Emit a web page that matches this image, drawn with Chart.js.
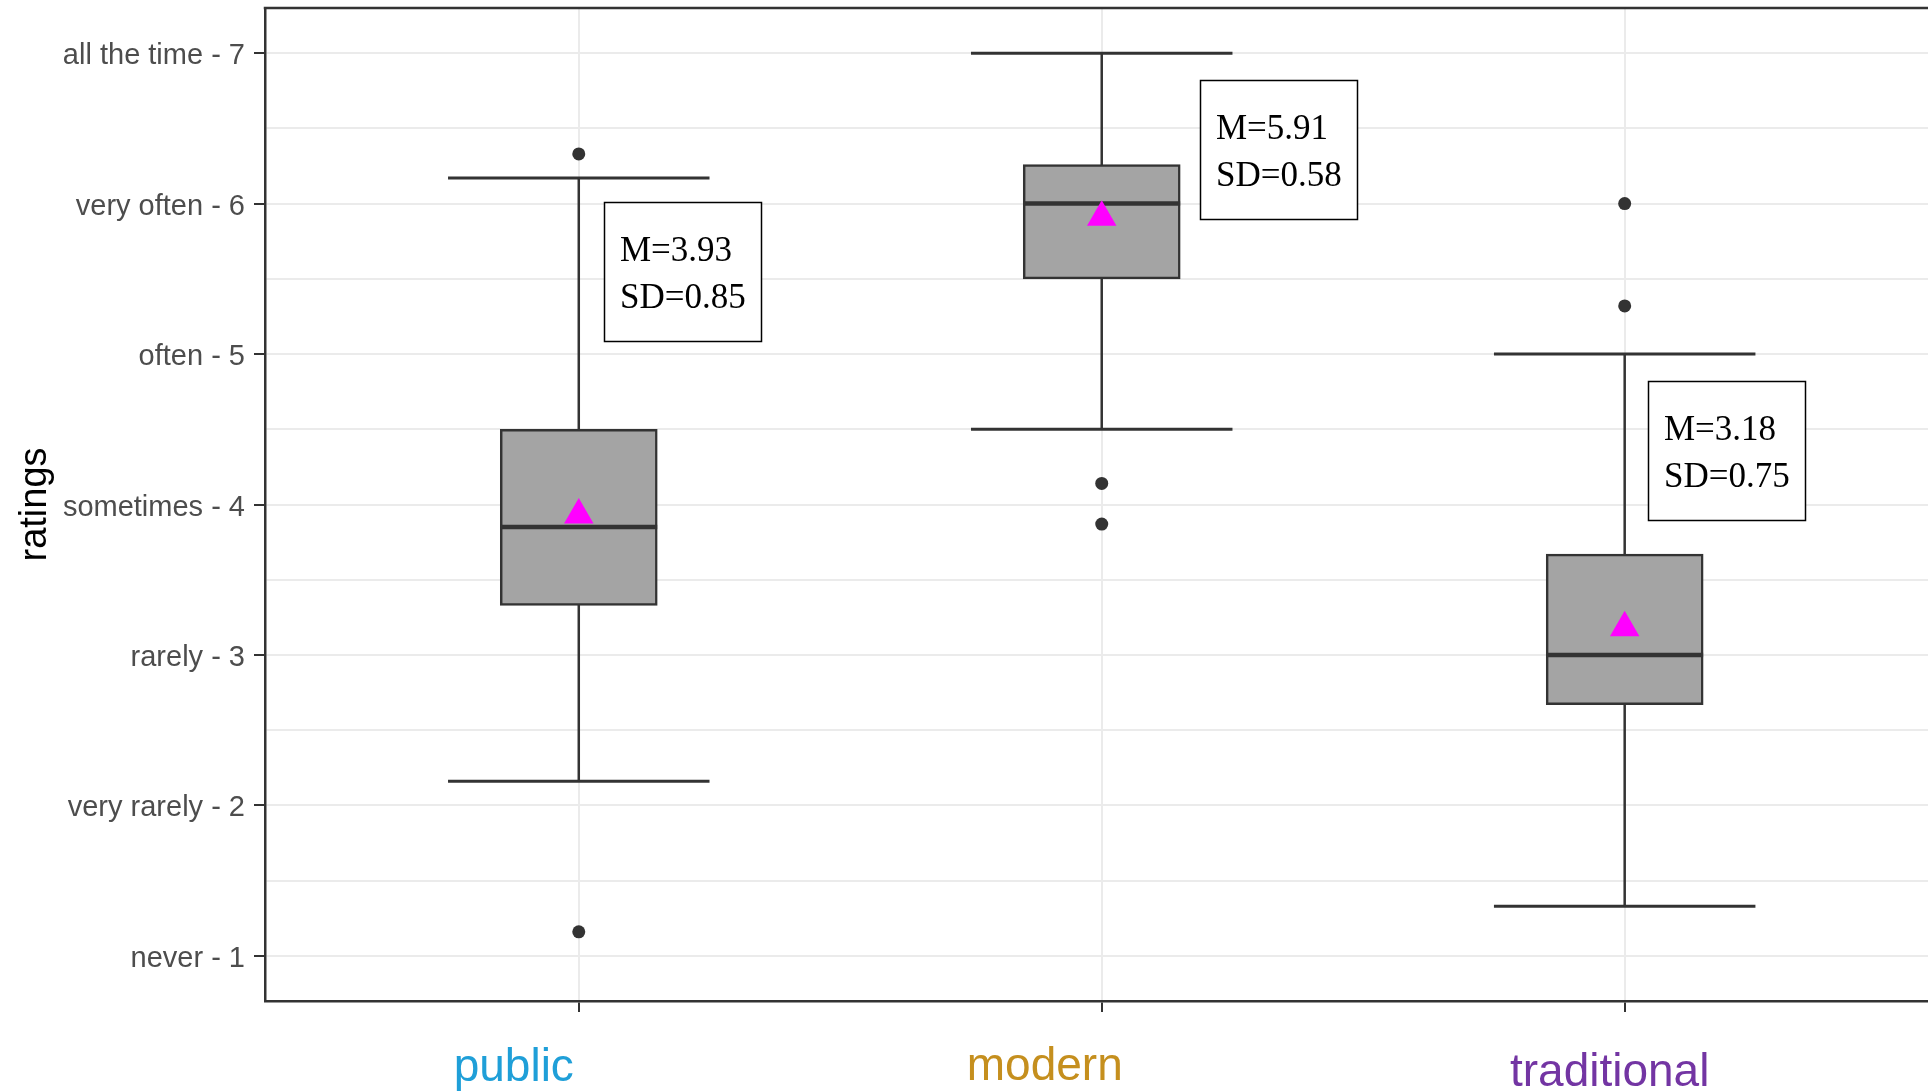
<!DOCTYPE html>
<html><head><meta charset="utf-8">
<script src="https://cdn.jsdelivr.net/npm/chart.js@4.4.1/dist/chart.umd.min.js"></script>
<style>html,body{margin:0;padding:0;background:#fff;overflow:hidden}canvas{display:block}</style>
</head><body>
<canvas id="c" width="1928" height="1092" style="width:1928px;height:1092px"></canvas>
<script>
// ---- data ----
const categories = ['public', 'modern', 'traditional'];
const lowerWhisker = [2.16, 4.5, 1.33];
const q1 = [3.33, 5.5, 2.67];
const medians = [3.85, 6.0, 3.0];
const q3 = [4.5, 6.26, 3.67];
const upperWhisker = [6.17, 7.0, 5.0];
const outliers = [[6.33, 1.16], [4.14, 3.87], [6.0, 5.32]];
const means = [3.93, 5.91, 3.18];
const sds = [0.85, 0.58, 0.75];
const yTickValues = [1, 2, 3, 4, 5, 6, 7];
const yTickLabels = ['never - 1', 'very rarely - 2', 'rarely - 3', 'sometimes - 4', 'often - 5', 'very often - 6', 'all the time - 7'];
const yMinorTicks = [1.5, 2.5, 3.5, 4.5, 5.5, 6.5];

// ---- layout / style ----
const xLabelColors = ['#1F9FD8', '#C58F1E', '#7335A3'];
const xLabelShift = [-65, -57, -15];
const xLabelBaseline = [1081, 1080, 1086];
const annoX = [1.048, 2.188, 3.044];
const annoTop = [6.01, 6.82, 4.82];
const boxHalf = 0.15, capHalf = 0.25;
const dark = '#333333';

const datasets = [];
datasets.push({
  type: 'scatter', order: 1,
  data: means.map((m, i) => ({x: i + 1, y: m})),
  pointStyle: 'triangle', pointRadius: 17, backgroundColor: '#FF00FF', borderWidth: 0
});
datasets.push({
  type: 'scatter', order: 2,
  data: outliers.flatMap((arr, i) => arr.map(v => ({x: i + 1, y: v}))),
  pointRadius: 6.5, backgroundColor: dark, borderWidth: 0
});
categories.forEach((c, i) => {
  datasets.push({
    type: 'line', order: 3,
    data: [{x: i + 1 - boxHalf, y: medians[i]}, {x: i + 1 + boxHalf, y: medians[i]}],
    borderColor: dark, borderWidth: 4.5, pointRadius: 0, borderCapStyle: 'butt'
  });
});
datasets.push({
  type: 'bar', order: 4,
  data: categories.map((c, i) => ({x: i + 1, y: [q1[i], q3[i]]})),
  backgroundColor: '#A4A4A4', borderColor: dark, borderWidth: 2.5, borderSkipped: false, barThickness: 157
});
categories.forEach((c, i) => {
  datasets.push({
    type: 'line', order: 5,
    data: [{x: i + 1, y: lowerWhisker[i]}, {x: i + 1, y: upperWhisker[i]}],
    borderColor: dark, borderWidth: 2.5, pointRadius: 0
  });
  [lowerWhisker[i], upperWhisker[i]].forEach(v => {
    datasets.push({
      type: 'line', order: 5,
      data: [{x: i + 1 - capHalf, y: v}, {x: i + 1 + capHalf, y: v}],
      borderColor: dark, borderWidth: 3, pointRadius: 0, borderCapStyle: 'butt'
    });
  });
});

const overlay = {
  id: 'overlay',
  afterDraw(chart) {
    const {ctx, chartArea: a, scales: {x, y}} = chart;
    ctx.save();
    // top panel border
    ctx.strokeStyle = dark; ctx.lineWidth = 2.5;
    ctx.beginPath(); ctx.moveTo(a.left - 1.25, a.top); ctx.lineTo(a.right, a.top); ctx.stroke();
    // M / SD boxes
    categories.forEach((c, i) => {
      const px = Math.round(x.getPixelForValue(annoX[i])) + 0.5;
      const py = Math.round(y.getPixelForValue(annoTop[i])) + 0.5;
      ctx.fillStyle = '#fff';
      ctx.fillRect(px, py, 157, 139);
      ctx.strokeStyle = '#000'; ctx.lineWidth = 1.5;
      ctx.strokeRect(px, py, 157, 139);
      ctx.fillStyle = '#000';
      ctx.font = '35px "Liberation Serif", "Times New Roman", serif';
      ctx.textAlign = 'left'; ctx.textBaseline = 'alphabetic';
      ctx.fillText('M=' + means[i].toFixed(2), px + 15.5, py + 58);
      ctx.fillText('SD=' + sds[i].toFixed(2), px + 15.5, py + 105);
    });
    // coloured category labels
    ctx.font = '46px "Liberation Sans", Arial, sans-serif';
    ctx.textAlign = 'center'; ctx.textBaseline = 'alphabetic';
    categories.forEach((c, i) => {
      ctx.fillStyle = xLabelColors[i];
      ctx.fillText(c, x.getPixelForValue(i + 1) + xLabelShift[i], xLabelBaseline[i]);
    });
    ctx.restore();
  }
};

new Chart(document.getElementById('c'), {
  type: 'bar',
  data: {datasets},
  plugins: [overlay],
  options: {
    responsive: false, animation: false, devicePixelRatio: 1,
    layout: {autoPadding: false, padding: {top: 8, left: 0, right: 0, bottom: 0}},
    plugins: {legend: {display: false}, tooltip: {enabled: false}},
    scales: {
      x: {
        type: 'linear', min: 0.4, max: 3.58, offset: false,
        afterBuildTicks: s => { s.ticks = categories.map((c, i) => ({value: i + 1})); },
        afterFit: s => { s.height = 91; s.paddingLeft = 0; s.paddingRight = 0; },
        grid: {offset: false, color: '#EBEBEB', lineWidth: 2, tickColor: dark, tickLength: 11, tickWidth: 2},
        border: {display: true, color: dark, width: 2.5},
        ticks: {callback: () => '', autoSkip: false}
      },
      y: {
        type: 'linear', min: 0.7, max: 7.3,
        afterBuildTicks: s => {
          s.ticks = yTickValues.concat(yMinorTicks).sort((a, b) => a - b).map(v => ({value: v}));
        },
        afterFit: s => { s.width = 265; s.paddingTop = 0; s.paddingBottom = 0; },
        grid: {
          color: '#EBEBEB', lineWidth: 2, tickLength: 11, tickWidth: 2,
          tickColor: ctx => (ctx.tick && yTickValues.includes(ctx.tick.value)) ? dark : 'rgba(0,0,0,0)'
        },
        border: {display: true, color: dark, width: 2.5},
        ticks: {
          autoSkip: false, padding: 9, labelOffset: 3, color: '#4D4D4D',
          font: {family: '"Liberation Sans", Arial, sans-serif', size: 29},
          callback: v => { const k = yTickValues.indexOf(v); return k >= 0 ? yTickLabels[k] : ''; }
        },
        title: {
          display: true, text: 'ratings', color: '#000',
          font: {family: '"Liberation Sans", Arial, sans-serif', size: 38},
          padding: {top: 13, bottom: 0}
        }
      }
    }
  }
});
</script>
</body></html>
